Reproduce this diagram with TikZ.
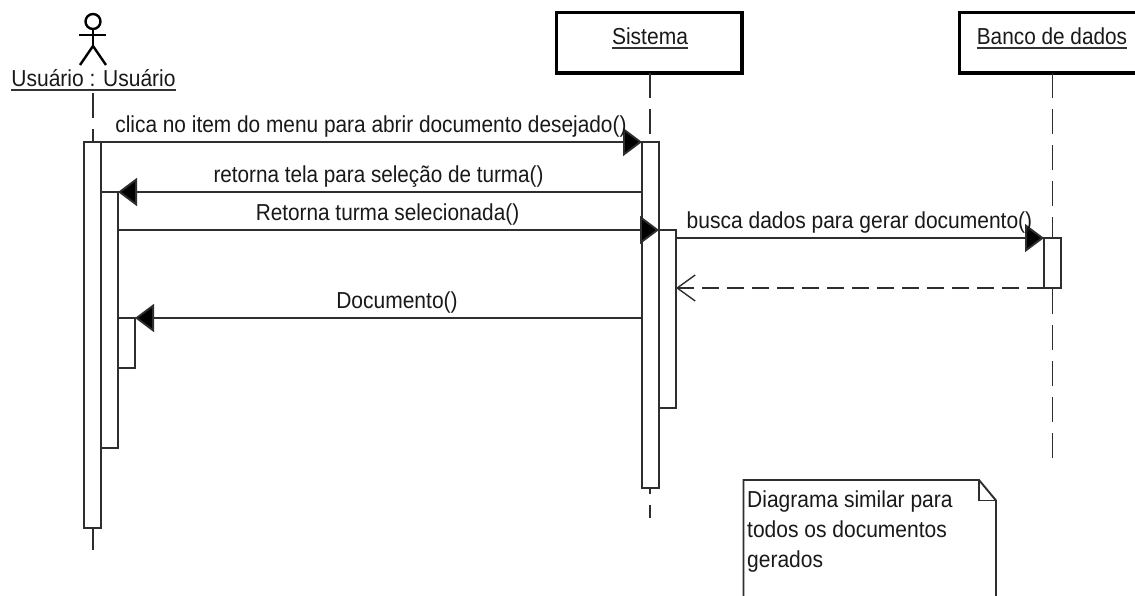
\documentclass[tikz,border=0pt]{standalone}
\usepackage{fontspec}
\usepackage{graphicx}
\setmainfont{Liberation Sans}
\usetikzlibrary{arrows.meta}
\newcommand{\tl}[2][1]{\scalebox{#1}[1.1]{#2}}
\tikzset{
  ln/.style={line width=1.9pt,draw=black!82},
  bar/.style={ln,fill=white,rectangle,minimum width=17pt,inner sep=0pt,outer sep=0pt,anchor=north west},
  obj/.style={rectangle,draw=black,line width=3.5pt,fill=white,minimum width=185.5pt,minimum height=60.5pt,inner sep=0pt,outer sep=0pt,anchor=north west},
  life/.style={ln,dash pattern=on 25pt off 11pt},
  msg/.style={ln,-{Triangle[length=19pt,width=28pt,fill=black]}},
  ret/.style={ln,dash pattern=on 17pt off 8pt,-{Straight Barb[length=18pt,width=26pt,line width=1.4pt]}},
  txt/.style={inner sep=0pt,anchor=base,font=\fontsize{21}{30}\selectfont,text=black!90},
  ulin/.style={line width=2pt,draw=black!80}
}
\begin{document}
\begin{tikzpicture}[x=1pt,y=-1pt]
\clip (0,0) rectangle (1135,596);
\fill[white] (0,0) rectangle (1135,596);
% coordinates for lifeline ends
\coordinate (uTop) at (93,93);
\coordinate (uEnd) at (93,550);
\coordinate (sEnd) at (650,518);
\coordinate (dEnd) at (1052.5,458);
% objects
\node[obj] (sis) at (556.3,12.3) {};
\node[obj] (ban) at (959.3,12.3) {};
% lifelines
\draw[life] (sEnd |- sis.south) -- (sEnd);
\draw[life] (dEnd |- ban.south) -- (dEnd);
\draw[life] (uTop) -- (uEnd);
% activation bars
\node[bar,minimum height=386pt] (u1) at (84,142) {};
\node[bar,minimum height=256pt] (u2) at (101,192) {};
\node[bar,minimum height=50pt] (u3) at (118,318) {};
\node[bar,minimum height=346pt] (s1) at (642,142) {};
\node[bar,minimum height=178pt] (s2) at (659,230) {};
\node[bar,minimum height=50pt] (d1) at (1044,238) {};
% messages
\draw[msg] (u1.north east) -- (s1.north west);
\draw[msg] (s1.west |- u2.north) -- (u2.north east);
\draw[msg] (u2.east |- s2.north) -- (s2.north west);
\draw[msg] (s2.east |- d1.north) -- (d1.north west);
\draw[ret] (d1.south west) -- (s2.east |- d1.south);
\draw[msg] (s1.west |- u3.north) -- (u3.north east);
% labels
\node[txt] (lsis) at (650,45) {\tl{Sistema}};
\node[txt] (lban) at (1052,45) {\tl[0.99]{Banco de dados}};
\node[txt] (luser) at (93.5,86.5) {\tl{Usuário : Usuário}};
\draw[ulin] (lsis.base west |- 0,48.5) -- (lsis.base east |- 0,48.5);
\draw[ulin] (lban.base west |- 0,48.5) -- (lban.base east |- 0,48.5);
\draw[ulin] (luser.base west |- 0,90) -- (luser.base east |- 0,90);
\node[txt] (m1) at (371,132.7) {\tl[0.993]{clica no item do menu para abrir documento desejado()}};
\node[txt] (m2) at (378.5,182.7) {\tl[0.985]{retorna tela para seleção de turma()}};
\node[txt] (m3) at (387.5,220.7) {\tl[0.99]{Retorna turma selecionada()}};
\node[txt] (m4) at (859.5,228.5) {\tl{busca dados para gerar documento()}};
\node[txt] (m5) at (397,308) {\tl{Documento()}};
% actor
\draw[line width=2.4pt,black] (93,21.5) circle (7.5);
\draw[line width=2.4pt,black] (93,29) -- (93,47);
\draw[line width=2.4pt,black] (79,35) -- (106,35);
\draw[line width=2.4pt,black] (80,65) -- (93,46) -- (106,65);
% note
\draw[ln,fill=white] (743.5,597) -- (743.5,480) -- (979,480) -- (996,500.5) -- (996,597);
\draw[ln] (979,480) -- (979,500.5) -- (996,500.5);
\node[txt,anchor=base west] (n1) at (747,507) {\tl{Diagrama similar para}};
\node[txt,anchor=base west] (n2) at (747,537) {\tl{todos os documentos}};
\node[txt,anchor=base west] (n3) at (747,567) {\tl{gerados}};
\end{tikzpicture}
\end{document}
